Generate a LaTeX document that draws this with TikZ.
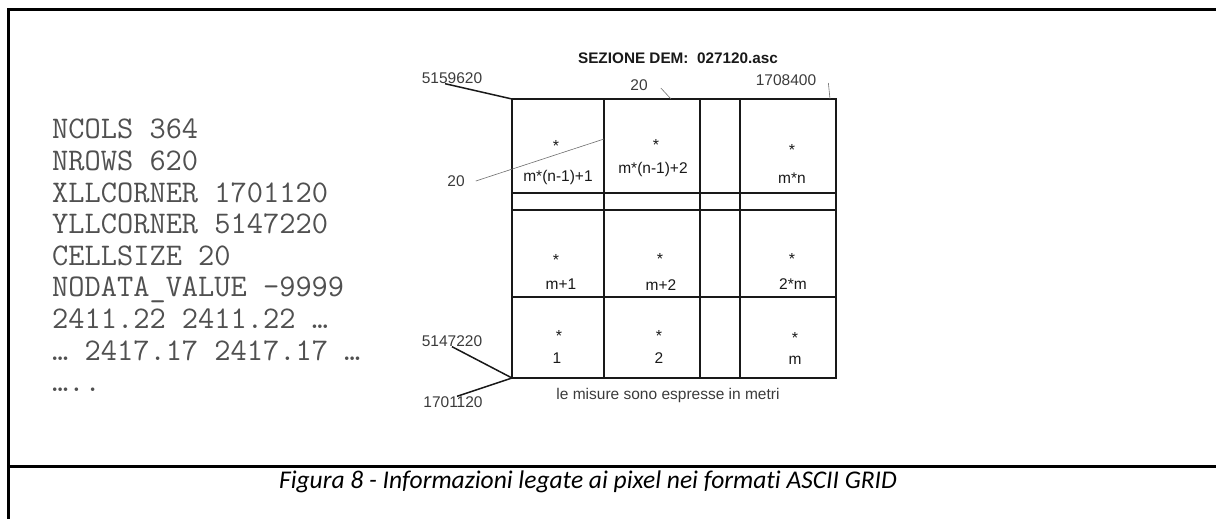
\documentclass[tikz,border=0pt]{standalone}
\usepackage{fontspec}
\setmainfont{Liberation Sans}
\newfontfamily\capfont[Ligatures=NoCommon]{Carlito}
\usetikzlibrary{positioning}
\definecolor{codegray}{RGB}{80,80,80}
\definecolor{leadgray}{RGB}{110,110,110}
\definecolor{gridblack}{RGB}{25,25,25}

\begin{document}
\begin{tikzpicture}[x=1pt,y=-1pt,
  celltxt/.style={font=\fontsize{15.5}{17}\selectfont,inner sep=0pt,anchor=base,text=gridblack},
  cellstar/.style={font=\fontsize{16}{17}\selectfont,inner sep=0pt,anchor=base,text=gridblack},
  coordtxt/.style={font=\fontsize{15.5}{17}\selectfont,inner sep=1pt,text=gridblack!85},
  leader/.style={draw=leadgray,line width=0.6pt},
  corner/.style={draw=gridblack,line width=1.5pt}]
\useasboundingbox (0,0) rectangle (1216,519);
% page frame
\draw[line width=3pt] (8.5,519) -- (8.5,10) -- (1216,10);
\draw[line width=3pt] (8.5,466) -- (1216,466);
% ascii header
\node[anchor=north west,align=left,inner sep=0pt,text=codegray,
      font=\ttfamily\fontsize{31.5}{31.6}\selectfont] (header) at (52,119)
  {NCOLS 364\\NROWS 620\\XLLCORNER 1701120\\YLLCORNER 5147220\\CELLSIZE 20\\
   NODATA\_VALUE -9999\\2411.22 2411.22 …\\… 2417.17 2417.17 …\\…..};
% grid
\coordinate (tl) at (512,99);
\coordinate (bl) at (512,378);
\coordinate (tc) at (671,99);
\coordinate (tr) at (830,99);
\coordinate (mc) at (604,139);
\draw[draw=gridblack,line width=2pt] (tl) rectangle (836,378);
\draw[draw=gridblack,line width=2pt] (604,99) -- (604,378);
\draw[draw=gridblack,line width=2pt] (700,99) -- (700,378);
\draw[draw=gridblack,line width=2pt] (740,99) -- (740,378);
\draw[draw=gridblack,line width=2pt] (512,193) -- (836,193);
\draw[draw=gridblack,line width=2pt] (512,210) -- (836,210);
\draw[draw=gridblack,line width=2pt] (512,297) -- (836,297);
\node[font=\bfseries\fontsize{15.3}{17}\selectfont,inner sep=0pt,text=gridblack] (title) at (678,58) {SEZIONE DEM:~~027120.asc};
% cells, top row
\node[cellstar] (s11) at (556,151) {*};
\node[celltxt] (l11) at (558,181) {m*(n-1)+1};
\node[cellstar] (s12) at (656,150) {*};
\node[celltxt] (l12) at (653,173) {m*(n-1)+2};
\node[cellstar] (s14) at (792,155) {*};
\node[celltxt] (l14) at (792,183) {m*n};
% cells, middle row
\node[cellstar] (s21) at (556,265) {*};
\node[celltxt] (l21) at (561,289) {m+1};
\node[cellstar] (s22) at (660,264) {*};
\node[celltxt] (l22) at (661,290) {m+2};
\node[cellstar] (s24) at (792,264) {*};
\node[celltxt] (l24) at (793,289) {2*m};
% cells, bottom row
\node[cellstar] (s31) at (559,341) {*};
\node[celltxt] (l31) at (557,363) {1};
\node[cellstar] (s32) at (659,341) {*};
\node[celltxt] (l32) at (659,363) {2};
\node[cellstar] (s34) at (795,343) {*};
\node[celltxt] (l34) at (795,364) {m};
% coordinates round the grid
\node[coordtxt] (ytop) at (452,78) {5159620};
\node[coordtxt] (dx) at (639,85) {20};
\node[coordtxt] (xtop) at (786,80) {1708400};
\node[coordtxt] (dy) at (456,181) {20};
\node[coordtxt] (ybot) at (452,341) {5147220};
\node[coordtxt] (xbot) at (453,402) {1701120};
\node[coordtxt] (units) at (668,395) {le misure sono espresse in metri};
\draw[corner] ([xshift=-7pt,yshift=1pt]ytop.south) -- (tl);
\draw[leader] ([xshift=12pt,yshift=-3pt]dx.east) -- (tc);
\draw[leader] ([xshift=11pt,yshift=-3pt]xtop.east) -- (tr);
\draw[leader] ([xshift=10pt]dy.east) -- (mc);
\draw[corner] ([yshift=1pt]ybot.south) -- (bl);
\draw[corner] ([xshift=4pt,yshift=-1pt]xbot.north) -- (bl);
% caption
\node[font=\capfont\itshape\fontsize{25.5}{28}\selectfont,inner sep=0pt] (caption) at (588,482)
  {Figura 8 - Informazioni legate ai pixel nei formati ASCII GRID};
\end{tikzpicture}
\end{document}
